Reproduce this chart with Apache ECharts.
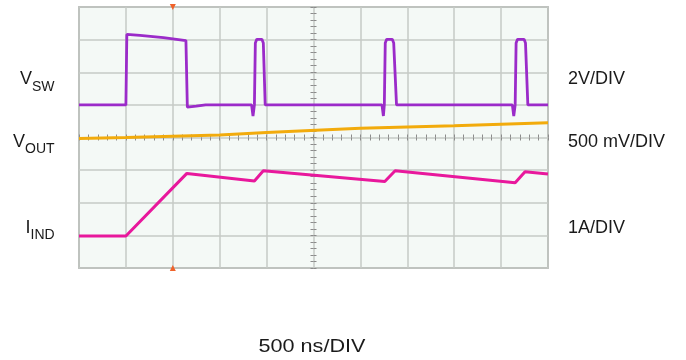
<!DOCTYPE html>
<html>
<head>
<meta charset="utf-8">
<script src="https://cdn.jsdelivr.net/npm/echarts@6/dist/echarts.min.js"></script>
<style>
html,body{margin:0;padding:0;background:#fff;}
#c{width:686px;height:360px;}
</style>
</head>
<body>
<div id="c"></div>
<script>
// Time axis in divisions (500 ns/DIV), vertical in divisions (0 = bottom)
const xDivs = [0, 10];
const yDivs = [0, 8];

// V_SW (2 V/DIV)
const vswData = [
  [0, 5.0], [1.0, 5.0], [1.02, 7.16], [1.3, 7.13], [1.8, 7.06], [2.28, 6.97],
  [2.31, 4.93], [2.5, 4.96], [2.7, 5.0], [3.68, 5.0], [3.71, 4.66], [3.74, 5.0],
  [3.76, 6.9], [3.79, 7.01], [3.9, 7.01], [3.93, 6.9], [3.97, 5.0],
  [6.46, 5.0], [6.49, 4.66], [6.51, 5.0], [6.53, 6.9], [6.56, 7.01], [6.68, 7.01],
  [6.71, 6.9], [6.77, 5.0],
  [9.24, 5.0], [9.27, 4.66], [9.3, 5.0], [9.32, 6.9], [9.35, 7.01], [9.49, 7.01],
  [9.52, 6.9], [9.57, 5.0], [10, 5.0]
];

// V_OUT (500 mV/DIV)
const voutData = [
  [0, 3.97], [1, 4.0], [3, 4.08], [4, 4.15], [4.7, 4.2], [6, 4.28], [8, 4.36], [10, 4.45]
];

// I_IND (1 A/DIV)
const iindData = [
  [0, 0.98], [1.0, 0.98], [2.3, 2.9], [3.74, 2.67], [3.93, 2.98], [6.52, 2.65],
  [6.74, 2.98], [9.30, 2.61], [9.51, 2.95], [10, 2.88]
];

const triggerPos = 2;

const chart = echarts.init(document.getElementById('c'), null, {renderer: 'canvas'});
const font = "'Liberation Sans', Arial, Helvetica, sans-serif";
const gridColor = '#c6cac6';
const tickColor = '#8c8c8c';

function hiddenAxisBase() {
  return {
    gridIndex: 0, type: 'value', axisLabel: {show: false}, splitLine: {show: false},
    axisLine: {show: false}
  };
}

const option = {
  animation: false,
  backgroundColor: '#ffffff',
  grid: {
    left: 79, right: 138, top: 7, bottom: 92,
    show: true, backgroundColor: '#f4f9f6', borderColor: '#929592', borderWidth: 1.5
  },
  xAxis: [
    {
      type: 'value', min: xDivs[0], max: xDivs[1], interval: 1,
      axisLabel: {show: false}, axisTick: {show: false}, axisLine: {show: false},
      splitLine: {show: true, lineStyle: {color: gridColor, width: 1.5}}
    },
    Object.assign(hiddenAxisBase(), {min: 0, max: 10, interval: 0.2, position: 'bottom', offset: -130.5,
      axisTick: {show: true, inside: true, length: 3, lineStyle: {color: tickColor, width: 1}}}),
    Object.assign(hiddenAxisBase(), {min: 0, max: 10, interval: 0.2, position: 'bottom', offset: -130.5,
      axisTick: {show: true, inside: false, length: 3, lineStyle: {color: tickColor, width: 1}}})
  ],
  yAxis: [
    {
      type: 'value', min: yDivs[0], max: yDivs[1], interval: 1,
      axisLabel: {show: false}, axisTick: {show: false}, axisLine: {show: false},
      splitLine: {show: true, lineStyle: {color: gridColor, width: 1.5}}
    },
    Object.assign(hiddenAxisBase(), {min: 0, max: 8, interval: 0.2, position: 'left', offset: -234.5,
      axisTick: {show: true, inside: true, length: 3, lineStyle: {color: tickColor, width: 1}}}),
    Object.assign(hiddenAxisBase(), {min: 0, max: 8, interval: 0.2, position: 'left', offset: -234.5,
      axisTick: {show: true, inside: false, length: 3, lineStyle: {color: tickColor, width: 1}}})
  ],
  series: [
    {
      name: 'VOUT', type: 'line', data: voutData, showSymbol: false, silent: true,
      lineStyle: {color: '#f2ab0c', width: 3}, itemStyle: {color: '#f2ab0c'},
      markPoint: {
        silent: true, label: {show: false},
        itemStyle: {color: '#f0622a'},
        data: [
          {coord: [triggerPos, 8], symbol: 'triangle', symbolRotate: 180, symbolSize: 6},
          {coord: [triggerPos, 0], symbol: 'triangle', symbolSize: 6}
        ]
      }
    },
    {
      name: 'VSW', type: 'line', data: vswData, showSymbol: false, silent: true,
      lineStyle: {color: '#9b2bc9', width: 2.8}, itemStyle: {color: '#9b2bc9'}
    },
    {
      name: 'IIND', type: 'line', data: iindData, showSymbol: false, silent: true,
      lineStyle: {color: '#e8189c', width: 3}, itemStyle: {color: '#e8189c'}
    }
  ],
  graphic: [
    // left channel labels
    {type: 'text', x: 32, y: 79.5, style: {text: 'V', fontFamily: font, fontSize: 18, fill: '#1a1a1a', align: 'right', verticalAlign: 'middle', textAlign: 'right', textVerticalAlign: 'middle'}},
    {type: 'text', x: 32, y: 87, style: {text: 'SW', fontFamily: font, fontSize: 14, fill: '#1a1a1a', align: 'left', verticalAlign: 'middle', textAlign: 'left', textVerticalAlign: 'middle'}},
    {type: 'text', x: 25, y: 142, style: {text: 'V', fontFamily: font, fontSize: 18, fill: '#1a1a1a', align: 'right', verticalAlign: 'middle', textAlign: 'right', textVerticalAlign: 'middle'}},
    {type: 'text', x: 25, y: 149, style: {text: 'OUT', fontFamily: font, fontSize: 14, fill: '#1a1a1a', align: 'left', verticalAlign: 'middle', textAlign: 'left', textVerticalAlign: 'middle'}},
    {type: 'text', x: 30.5, y: 228.5, style: {text: 'I', fontFamily: font, fontSize: 18, fill: '#1a1a1a', align: 'right', verticalAlign: 'middle', textAlign: 'right', textVerticalAlign: 'middle'}},
    {type: 'text', x: 30.5, y: 235, style: {text: 'IND', fontFamily: font, fontSize: 14, fill: '#1a1a1a', align: 'left', verticalAlign: 'middle', textAlign: 'left', textVerticalAlign: 'middle'}},
    // right scale labels
    {type: 'text', x: 568, y: 79, style: {text: '2V/DIV', fontFamily: font, fontSize: 18, fill: '#1a1a1a', align: 'left', verticalAlign: 'middle', textAlign: 'left', textVerticalAlign: 'middle'}},
    {type: 'text', x: 568, y: 142, style: {text: '500 mV/DIV', fontFamily: font, fontSize: 18, fill: '#1a1a1a', align: 'left', verticalAlign: 'middle', textAlign: 'left', textVerticalAlign: 'middle'}},
    {type: 'text', x: 568, y: 228, style: {text: '1A/DIV', fontFamily: font, fontSize: 18, fill: '#1a1a1a', align: 'left', verticalAlign: 'middle', textAlign: 'left', textVerticalAlign: 'middle'}},
    // time base
    {type: 'text', x: 312, y: 347, scaleX: 1.2, style: {text: '500 ns/DIV', fontFamily: font, fontSize: 18, fill: '#1a1a1a', align: 'center', verticalAlign: 'middle', textAlign: 'center', textVerticalAlign: 'middle'}}
  ]
};
chart.setOption(option);
</script>
</body>
</html>
